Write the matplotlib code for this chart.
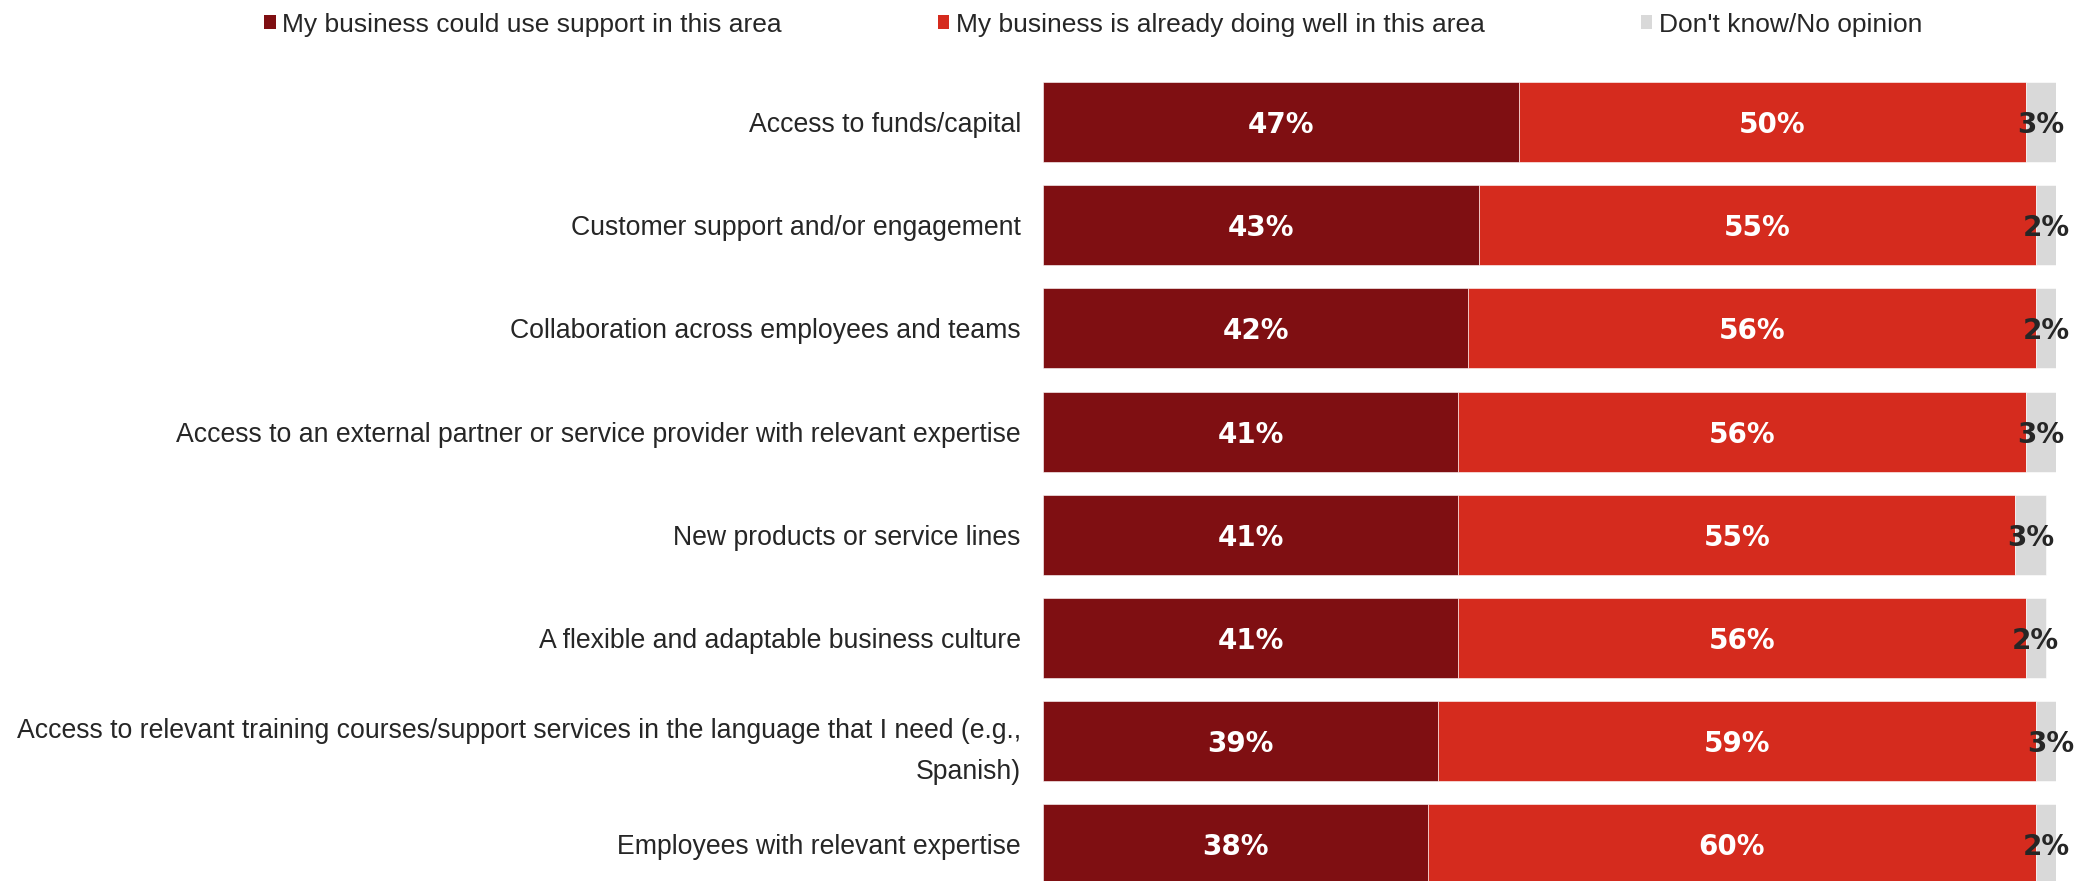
import matplotlib.pyplot as plt
from matplotlib.patches import Patch

categories = [
    'Access to funds/capital',
    'Customer support and/or engagement',
    'Collaboration across employees and teams',
    'Access to an external partner or service provider with relevant expertise',
    'New products or service lines',
    'A flexible and adaptable business culture',
    'Access to relevant training courses/support services in the language that I need (e.g.,\nSpanish)',
    'Employees with relevant expertise',
]
need_support = [47, 43, 42, 41, 41, 41, 39, 38]
doing_well = [50, 55, 56, 56, 55, 56, 59, 60]
no_opinion = [3, 2, 2, 3, 3, 2, 3, 2]

series_names = ['My business could use support in this area',
                'My business is already doing well in this area',
                "Don't know/No opinion"]
colors = ['#7f0f12', '#d52b1e', '#d9d9d9']
label_colors = ['white', 'white', '#262626']

plt.rcParams['font.family'] = ['Liberation Sans', 'DejaVu Sans']

fig = plt.figure(figsize=(20.86, 8.81), dpi=100)
ax = fig.add_axes([0.5, 0.0, 0.4856, 1.0])

y = list(range(len(categories)))
left = [0] * len(categories)
for vals, col, lc in zip([need_support, doing_well, no_opinion], colors, label_colors):
    bars = ax.barh(y, vals, left=left, height=0.775, color=col,
                   edgecolor='white', linewidth=0.4)
    for b, v in zip(bars, vals):
        ax.text(b.get_x() + b.get_width() / 2, b.get_y() + b.get_height() / 2,
                f'{v}%', ha='center', va='center_baseline', color=lc,
                fontsize=20, fontweight='bold', family='DejaVu Sans')
    left = [l + v for l, v in zip(left, vals)]

ax.set_xlim(0, 100)
ax.set_ylim(7.355, -1.182)
ax.set_yticks(y)
ax.set_yticklabels(categories, fontsize=19.2, color='#262626', ha='right',
                   linespacing=1.75)
ax.tick_params(axis='y', length=0, pad=16)
ax.set_xticks([])
for s in ax.spines.values():
    s.set_visible(False)

handles = [Patch(facecolor=c, edgecolor='none') for c in colors]
fig.legend(handles, series_names, loc='center', bbox_to_anchor=(0.524, 0.972),
           ncol=3, frameon=False, fontsize=19, handlelength=0.45,
           handleheight=0.45, handletextpad=0.25, columnspacing=5.9,
           labelcolor='#262626')

fig.savefig('out.png', dpi=100)
